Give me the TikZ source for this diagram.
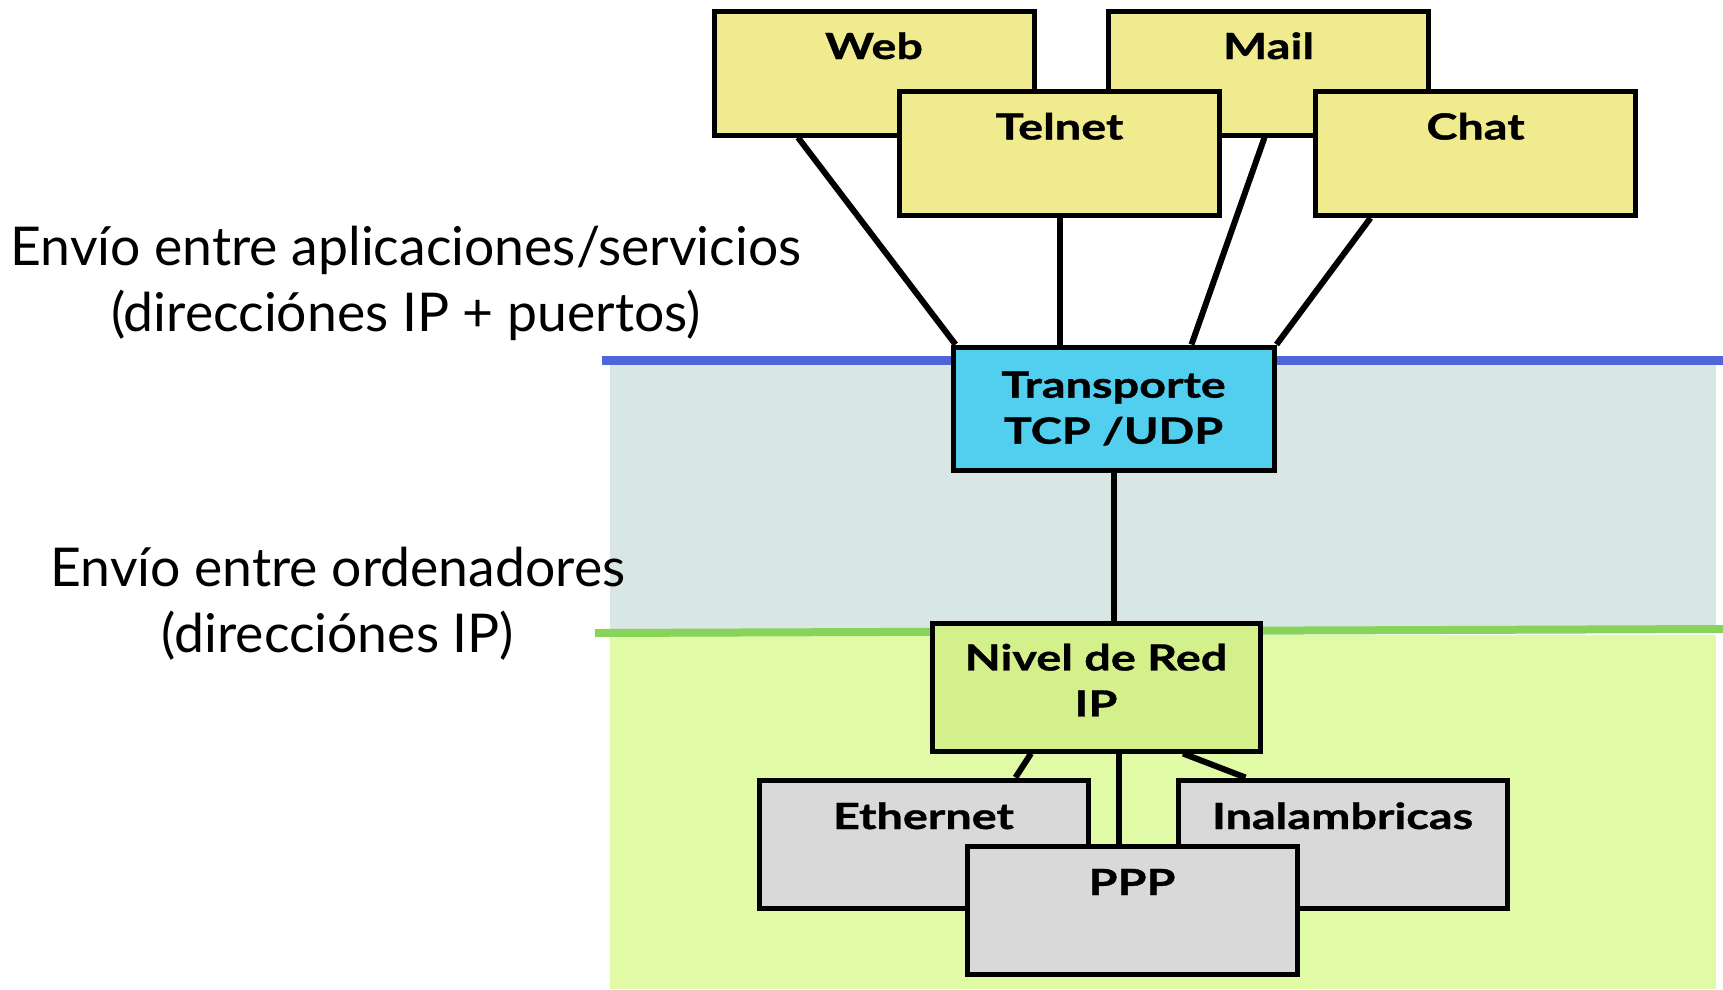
\documentclass[tikz,border=0pt]{standalone}
\usepackage{fontspec}
\setmainfont{Lato}
\newfontfamily\boxfam[FakeStretch=1.3, FakeBold=1]{Lato}
\usetikzlibrary{calc}

\definecolor{appyellow}{RGB}{240,235,142}
\definecolor{transblue}{RGB}{82,206,238}
\definecolor{redgreen}{RGB}{212,240,138}
\definecolor{linkgray}{RGB}{217,217,217}
\definecolor{bandtop}{RGB}{216,231,228}
\definecolor{bandlow}{RGB}{224,250,166}
\definecolor{lineblue}{RGB}{80,101,216}
\definecolor{linegreen}{RGB}{136,212,90}

\newcommand{\boxfont}{\fontsize{36}{46}\selectfont\boxfam\bfseries}
\newcommand{\sidefont}{\fontsize{53.5}{66}\selectfont}

\tikzstyle{app} = [rectangle, draw=black, line width=5pt, fill=appyellow, minimum width=320pt, inner sep=0pt, text height=48pt, text depth=76pt, font=\boxfont]
\tikzstyle{link} = [rectangle, draw=black, line width=5pt, fill=linkgray, minimum width=329pt, inner sep=0pt, text height=49pt, text depth=79pt, font=\boxfont]
\tikzstyle{layer} = [rectangle, draw=black, line width=5pt, minimum width=321pt, inner sep=0pt, align=center, font=\boxfont]
\tikzstyle{side} = [align=center, font=\sidefont]
\tikzstyle{wire} = [line width=6pt]

\begin{document}
\begin{tikzpicture}[x=1pt, y=-1pt]
\useasboundingbox (0,0) rectangle (1723,989);

% bands
\fill [bandtop] (610,363) rectangle (1716,632);
\fill [bandlow] (610,635) rectangle (1716,989);
\draw [lineblue, line width=9pt] (602,360) -- (1723,360);
\draw [linegreen, line width=8pt] (595,633) -- (1723,629);

\node (senv) [side] at (406,283) {Envío entre aplicaciones/servicios\\(direcciónes IP + puertos)};
\node (henv) [side] at (338,604) {Envío entre ordenadores\\(direcciónes IP)};

\node (web) [app] at (874,73) {Web};
\node (mail) [app] at (1268.5,73) {Mail};
\node (telnet) [app] at (1059.5,153.5) {Telnet};
\node (chat) [app] at (1475.5,153.5) {Chat};

\node (trans) [layer, fill=transblue, minimum height=123pt] at (1113.5,408.5) {Transporte\\TCP /UDP};
\node (red) [layer, fill=redgreen, minimum width=328pt, minimum height=128pt] at (1096,687) {Nivel de Red\\IP\strut};

\node (eth) [link] at (923.5,844) {Ethernet};
\node (inal) [link] at (1342.5,844) {Inalambricas};
\node (ppp) [link, minimum width=330pt] at (1132,910) {PPP};

\coordinate (redppp) at ([xshift=23pt]red.south);

\draw [wire] ([xshift=-76pt]web.south) -- ([xshift=5pt]trans.north west);
\draw [wire] (telnet.south) -- (telnet.south |- trans.north);
\draw [wire] ([xshift=-4pt]mail.south) -- ([xshift=78pt]trans.north);
\draw [wire] ([xshift=-105pt]chat.south) -- (trans.north east);
\draw [wire] (trans.south) -- (trans.south |- red.north);
\draw [wire] ([xshift=-65pt]red.south) -- ([xshift=92pt]eth.north);
\draw [wire] (redppp) -- (redppp |- ppp.north);
\draw [wire] ([xshift=87pt]red.south) -- ([xshift=-97pt]inal.north);

\end{tikzpicture}
\end{document}
